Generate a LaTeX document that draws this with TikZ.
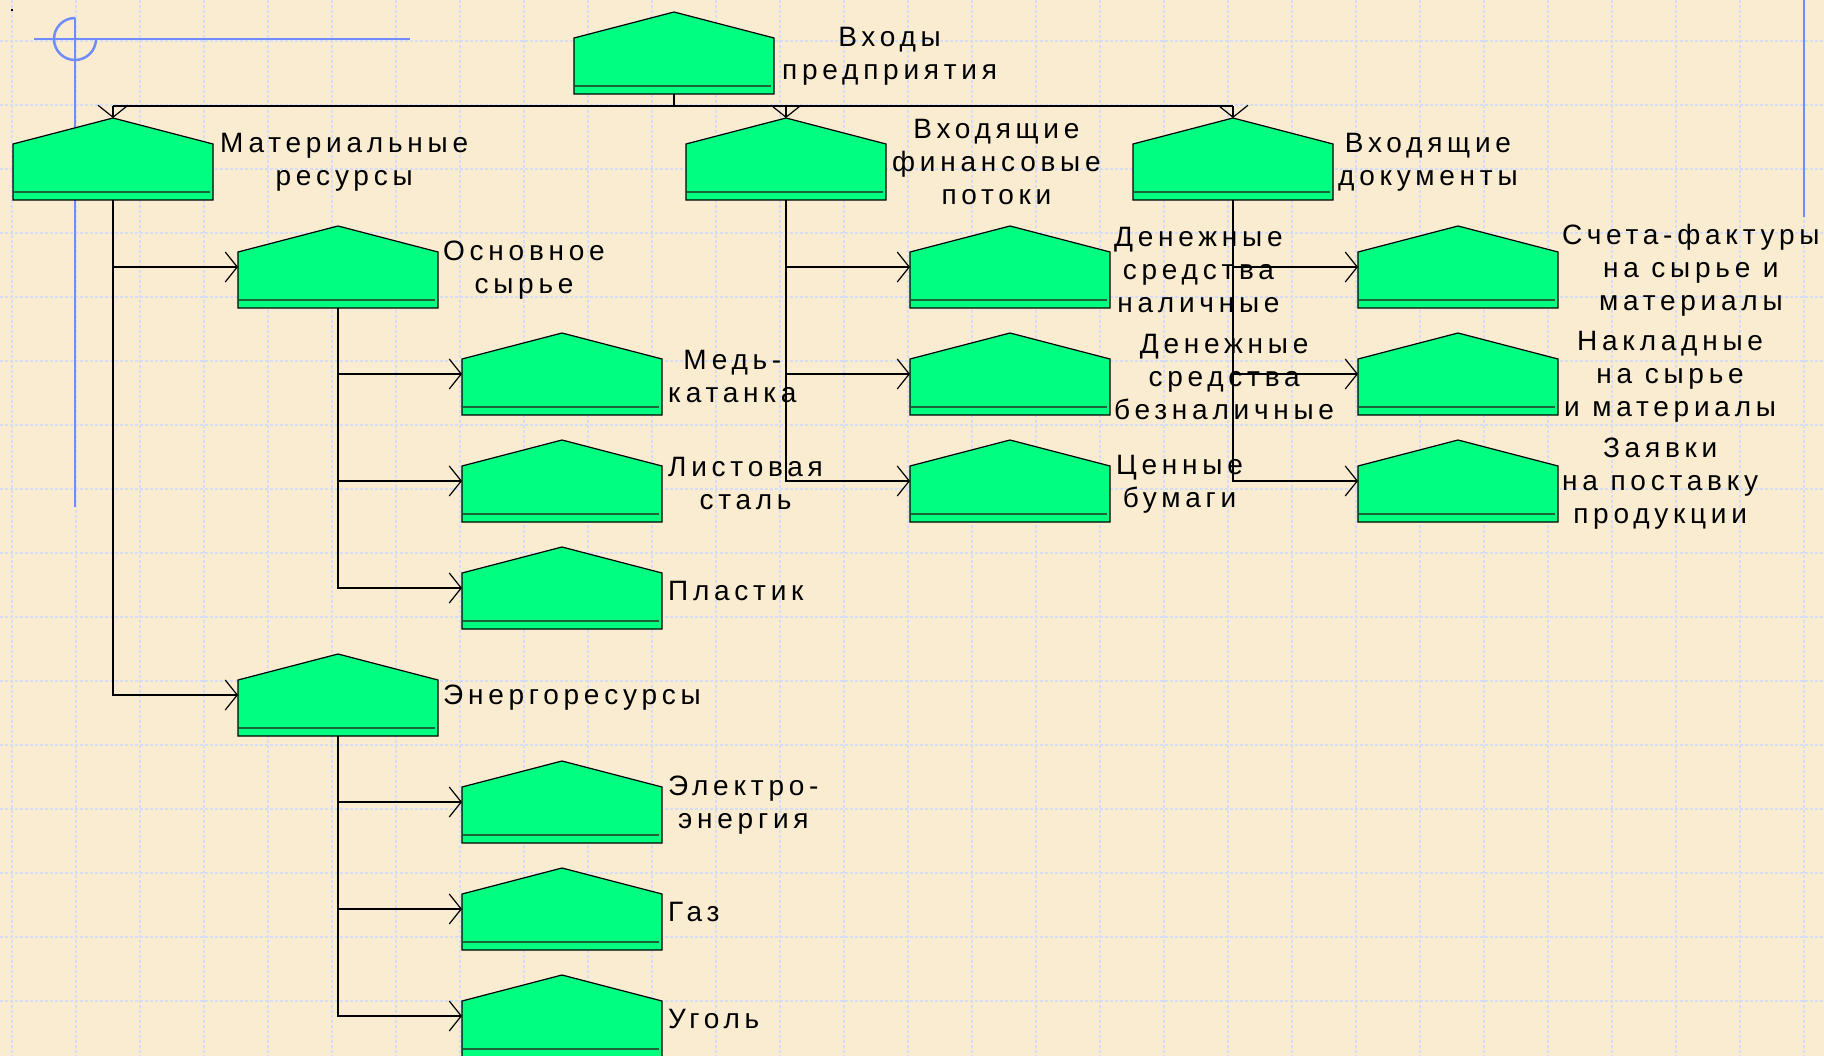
\documentclass[tikz,border=0pt]{standalone}
\usepackage{fontspec}
\setmainfont{Liberation Sans}[LetterSpace=17]
\usepackage{tikz}
\usetikzlibrary{positioning,arrows.meta}

\definecolor{paper}{RGB}{249,236,208}
\definecolor{gridblue}{RGB}{212,220,246}
\definecolor{guideblue}{RGB}{112,140,250}
\definecolor{housegreen}{RGB}{0,255,128}
\definecolor{shelf}{RGB}{28,100,56}

\begin{document}
\begin{tikzpicture}[x=1pt,y=-1pt,
    house/.style={minimum width=200pt,minimum height=82pt,inner sep=0pt,outer sep=0pt},
    houseshape/.style={fill=housegreen,draw=black,line width=1.2pt},
    tag/.style={inner sep=0pt,align=center,yshift=-3pt,font=\fontsize{28}{33}\selectfont},
    wire/.style={line width=1.2pt},
    link/.style={wire,-{Straight Barb[length=12pt,width=30pt]}},
    gridline/.style={gridblue,line width=1.5pt,dash pattern=on 3pt off 2pt},
    guide/.style={guideblue,line width=2.5pt}]
  % paper and grid
  \fill[paper] (0,0) rectangle (1824,1056);
  \useasboundingbox (0,0) rectangle (1824,1056);
  \foreach \gx in {12,76,...,1804} \draw[gridline] (\gx,0) -- (\gx,1056);
  \foreach \gy in {41,105,...,1001} \draw[gridline] (0,\gy) -- (1824,\gy);
  \draw[guide] (34,39) -- (410,39);
  \draw[guide] (75,18) -- (75,507);
  \draw[guide] (75,18) arc[start angle=90,end angle=360,radius=21pt];
  \draw[guide] (1804,0) -- (1804,217);
  \fill (11,9) rectangle (13,11);

  \node[house] (inp) at (674,53) {};
  \node[house] (mat) at (113,159) {};
  \node[house] (fin) at (786,159) {};
  \node[house] (doc) at (1233,159) {};
  \node[house] (raw) at (338,267) {};
  \node[house] (copper) at (562,374) {};
  \node[house] (steel) at (562,481) {};
  \node[house] (plastic) at (562,588) {};
  \node[house] (energy) at (338,695) {};
  \node[house] (elec) at (562,802) {};
  \node[house] (gas) at (562,909) {};
  \node[house] (coal) at (562,1016) {};
  \node[house] (cash) at (1010,267) {};
  \node[house] (noncash) at (1010,374) {};
  \node[house] (sec) at (1010,481) {};
  \node[house] (inv) at (1458,267) {};
  \node[house] (bills) at (1458,374) {};
  \node[house] (orders) at (1458,481) {};

  \foreach \n in {inp,mat,fin,doc,raw,copper,steel,plastic,energy,elec,gas,coal,cash,noncash,sec,inv,bills,orders} {
    \filldraw[houseshape] (\n.south west) -- ([yshift=-26pt]\n.north west) -- (\n.north)
      -- ([yshift=-26pt]\n.north east) -- (\n.south east) -- cycle;
    \draw[shelf,line width=1.6pt] ([shift={(1pt,8pt)}]\n.south west) -- ([shift={(-3pt,8pt)}]\n.south east);
  }

  % connectors
  \coordinate (bus) at (674,106);
  \draw[wire] (inp.south) -- (bus);
  \draw[wire] (mat.north |- bus) -- (doc.north |- bus);
  \foreach \n in {mat,fin,doc} \draw[link] (\n.north |- bus) -- (\n.north);
  \foreach \n in {raw,energy} \draw[link] (mat.south) |- (\n.west);
  \foreach \n in {copper,steel,plastic} \draw[link] (raw.south) |- (\n.west);
  \foreach \n in {elec,gas,coal} \draw[link] (energy.south) |- (\n.west);
  \foreach \n in {cash,noncash,sec} \draw[link] (fin.south) |- (\n.west);
  \foreach \n in {inv,bills,orders} \draw[link] (doc.south) |- (\n.west);

  % labels
  \node[tag,right=8pt of inp] (inptext) {Входы\\предприятия};
  \node[tag,right=7pt of mat] (mattext) {Материальные\\ресурсы};
  \node[tag,right=6pt of fin] (fintext) {Входящие\\финансовые\\потоки};
  \node[tag,right=5pt of doc] (doctext) {Входящие\\документы};
  \node[tag,right=5pt of raw] (rawtext) {Основное\\сырье};
  \node[tag,right=6pt of copper] (coppertext) {Медь-\\катанка};
  \node[tag,right=6pt of steel] (steeltext) {Листовая\\сталь};
  \node[tag,right=6pt of plastic] (plastictext) {Пластик};
  \node[tag,right=5pt of energy] (energytext) {Энергоресурсы};
  \node[tag,right=6pt of elec] (electext) {Электро-\\энергия};
  \node[tag,right=6pt of gas] (gastext) {Газ};
  \node[tag,right=6pt of coal] (coaltext) {Уголь};
  \node[tag,right=4pt of cash] (cashtext) {Денежные\\средства\\наличные};
  \node[tag,right=4pt of noncash] (noncashtext) {Денежные\\средства\\безналичные};
  \node[tag,right=6pt of sec] (sectext) {Ценные\\бумаги};
  \node[tag,right=4pt of inv] (invtext) {Счета-фактуры\\на сырье и\\материалы};
  \node[tag,right=6pt of bills] (billstext) {Накладные\\на сырье\\и материалы};
  \node[tag,right=4pt of orders] (orderstext) {Заявки\\на поставку\\продукции};
\end{tikzpicture}
\end{document}
